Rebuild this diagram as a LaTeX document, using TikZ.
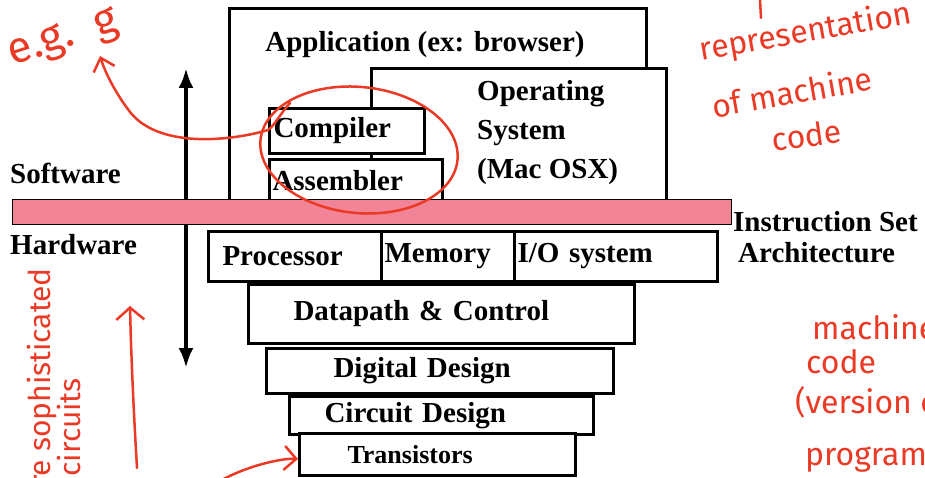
\documentclass[tikz,border=0pt]{standalone}
\usepackage{fontspec}
\setmainfont{Liberation Serif}
\newfontfamily\handfont{Fira Sans}
\usetikzlibrary{arrows.meta}
\definecolor{barpink}{RGB}{242,132,152}
\definecolor{ink}{RGB}{234,58,38}
\begin{document}
\begin{tikzpicture}[x=1pt,y=-1pt,
	box/.style={draw,line width=3pt,fill=white,anchor=north west,inner sep=0pt,
		font=\fontsize{29}{32}\selectfont\bfseries},
	side/.style={inner sep=0pt,font=\fontsize{29}{39}\selectfont\bfseries},
	hand/.style={ink,inner sep=0pt,font=\fontsize{32}{36}\selectfont\handfont},
	pen/.style={ink,line width=2.5pt,line cap=round}]
		\useasboundingbox (0,0) rectangle (925,478);
		\clip (0,0) rectangle (925,478);
		% software side
		\coordinate (up) at (186,68);
		\coordinate (down) at (186,368);
		\draw[line width=4pt,{Latex[length=20pt,width=15pt]}-{Latex[length=20pt,width=15pt]}] (up)--(down);
		\node[box,minimum width=417pt,minimum height=193pt] (app) at (228,7) {};
		\node[side,anchor=base] (apptxt) at (425,52) {Application (ex: browser)};
		\node[box,minimum width=295pt,minimum height=133pt] (os) at (370,67) {};
		\node[side,anchor=north west,align=left] (ostxt) at (477,80) {Operating\\System\\(Mac OSX)};
		\node[box,minimum width=155pt,minimum height=45pt,text width=147pt,inner xsep=4pt,align=left] (comp) at (268,107) {Compiler};
		\node[box,minimum width=173pt,minimum height=42pt,text width=167pt,inner xsep=3pt,align=left] (asm) at (268,158) {Assembler};
		% the interface
		\node[draw,line width=1.2pt,fill=barpink,anchor=north west,inner sep=0pt,
			minimum width=719pt,minimum height=25pt] (isa) at (12,199) {};
		\node[side,anchor=base west] (sw) at (10,184) {Software};
		\node[side,anchor=base west] (hw) at (10,254) {Hardware};
		\node[side,anchor=base west] (isa1) at (733,231) {Instruction Set};
		\node[side,anchor=base west] (isa2) at (738,262) {Architecture};
		% hardware side
		\node[box,minimum width=173pt,minimum height=50pt,text width=145pt,inner xsep=14pt,align=left] (proc) at (207,230) {Processor};
		\node[box,minimum width=133pt,minimum height=50pt,text width=127pt,inner xsep=3pt,align=left] (mem) at (380,230) {Memory};
		\node[box,minimum width=203pt,minimum height=50pt,text width=197pt,inner xsep=3pt,align=left] (io) at (513,230) {I/O system};
		\node[box,minimum width=386pt,minimum height=59pt,text width=296pt,inner xsep=45pt,align=left] (dp) at (247,283) {Datapath \& Control};
		\node[box,minimum width=347pt,minimum height=45pt,text width=213pt,inner xsep=67pt,align=left] (dd) at (265,347) {Digital Design};
		\node[box,minimum width=304pt,minimum height=38pt,text width=234pt,inner xsep=35pt,align=left] (cd) at (288,395) {Circuit Design};
		\node[box,minimum width=276pt,minimum height=42pt,text width=180pt,inner xsep=48pt,align=left,
			font=\fontsize{26}{30}\selectfont\bfseries] (tr) at (298,432) {Transistors};
		% notes in red
		\draw[pen,rotate around={-6:(359,150)}] (359,150) ellipse (99pt and 63pt);
		\coordinate (eg) at (100,56);
		\draw[pen,-{Straight Barb[length=12pt,width=22pt]}] (290,103) .. controls (280,114) and (275,125) .. (268,130)
			.. controls (235,140) and (160,150) .. (130,112) .. controls (117,95) and (106,75) .. (eg);
		\node[hand,rotate=18,font=\fontsize{44}{48}\selectfont\handfont] (egtxt) at (64,40) {e.g.\ \ g};
		\coordinate (lo) at (137,468);
		\coordinate (hi) at (130,306);
		\draw[pen,-{Straight Barb[length=12pt,width=28pt]}] (lo) .. controls (133,400) and (131,350) .. (hi);
		\node[hand,rotate=90,anchor=base east,font=\fontsize{30}{34}\selectfont\handfont] (soph) at (50,268) {more sophisticated};
		\node[hand,rotate=90,anchor=base east,font=\fontsize{30}{34}\selectfont\handfont] (circ) at (80,378) {circuits};
		\coordinate (from) at (218,482);
		\draw[pen,-{Straight Barb[length=12pt,width=24pt]}] (from) .. controls (250,464) and (285,458) .. (tr.west |- 0,459);
		\draw[pen] (760,0)--(761,18);
		\node[hand,rotate=10,anchor=west] (rep1) at (700,52) {representation};
		\node[hand,rotate=10,anchor=west] (rep2) at (712,106) {of machine};
		\node[hand,rotate=8,anchor=west] (rep3) at (772,140) {code};
		\node[hand,anchor=west] (mc1) at (812,327) {machine};
		\node[hand,anchor=west] (mc2) at (806,362) {code};
		\node[hand,anchor=west] (mc3) at (795,402) {(version of};
		\node[hand,anchor=west] (mc4) at (805,460) {program};
	\end{tikzpicture}
\end{document}
